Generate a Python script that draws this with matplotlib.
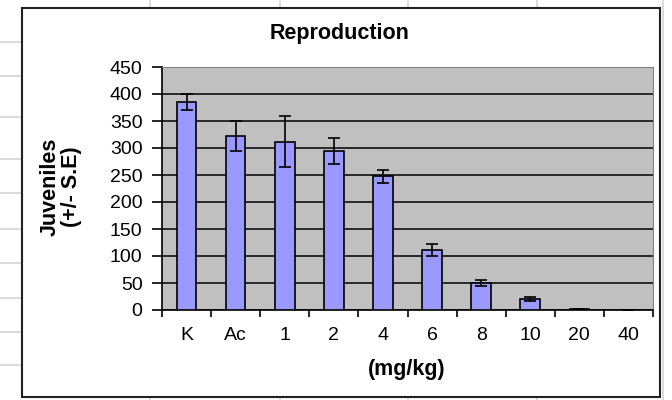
import matplotlib.pyplot as plt
from matplotlib.lines import Line2D
from matplotlib.patches import Rectangle

plt.rcParams['font.family'] = ['Liberation Sans', 'DejaVu Sans']

doses = ["K", "Ac", "1", "2", "4", "6", "8", "10", "20", "40"]
juveniles = [385, 322, 312, 294, 248, 111, 50, 21, 1, 0]
se = [15, 28, 48, 24, 12, 11, 5, 4, 0, 0]

W, H = 672, 400
fig = plt.figure(figsize=(W / 100, H / 100), dpi=100)

# spreadsheet cells behind the chart object
for y in [42, 76, 117, 159, 193, 229, 263, 298, 332, 365]:
    fig.add_artist(Line2D([0, 22 / W], [1 - y / H] * 2, color='#d4d4d4', lw=1.2, zorder=-3))
for x in [150, 280, 408, 537, 663]:
    fig.add_artist(Line2D([x / W] * 2, [0, 1], color='#d4d4d4', lw=1.2, zorder=-3))
fig.add_artist(Rectangle((22 / W, 3 / H), 638 / W, 389 / H, transform=fig.transFigure,
                         facecolor='white', edgecolor='#222222', lw=1.5, zorder=-2))

ax = fig.add_axes([162 / W, 90 / H, 491 / W, 243 / H])
ax.set_facecolor('#C0C0C0')
xs = list(range(len(doses)))
ax.bar(xs, juveniles, width=0.4, color='#9999FF', edgecolor='black', linewidth=1.2,
       yerr=se, capsize=4, zorder=3,
       error_kw=dict(elinewidth=1.2, capthick=1.2, ecolor='black'))

ax.set_xlim(-0.5, len(doses) - 0.5)
ax.set_ylim(0, 450)
ax.set_yticks(range(0, 451, 50))
ax.yaxis.grid(True, color='black', lw=1.1)
ax.set_axisbelow(True)
ax.set_xticks(xs)
ax.set_xticklabels(doses)
ax.set_xticks([i - 0.5 for i in range(len(doses) + 1)], minor=True)
ax.tick_params(axis='x', which='major', length=0, pad=12, labelsize=14)
ax.tick_params(axis='x', which='minor', direction='out', length=5, width=1.2)
ax.tick_params(axis='y', direction='out', length=7, width=1.2, pad=7, labelsize=14)
for s in ['top', 'right']:
    ax.spines[s].set_color('#808080')
for s in ['left', 'bottom']:
    ax.spines[s].set_linewidth(1.2)

fig.text(340 / W, 1 - 34 / H, "Reproduction", ha='center', va='center',
         fontsize=15.5, fontweight='bold')
fig.text(61 / W, 1 - 187 / H, "Juveniles\n(+/- S.E)", ha='center', va='center',
         rotation=90, fontsize=15.5, fontweight='bold', multialignment='center',
         linespacing=1.0)
fig.text(407 / W, 1 - 369 / H, "(mg/kg)", ha='center', va='center',
         fontsize=15.5, fontweight='bold')

fig.savefig("out.png", dpi=100)
